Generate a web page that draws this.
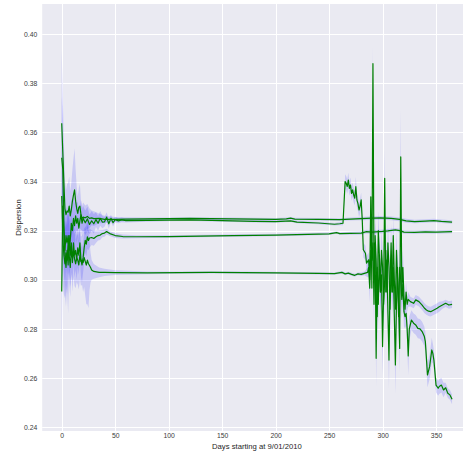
<!DOCTYPE html>
<html>
<head>
<meta charset="utf-8">
<script src="https://cdn.jsdelivr.net/npm/d3@7"></script>
<style>
  body { margin: 0; background: #fff; }
  text { font-family: "Liberation Sans", Arial, sans-serif; }
</style>
</head>
<body>
<div id="chart"></div>
<script>
// each row: [day, mean dispersion, half width of the blue band]
const series1 = [
  [0, 0.3637, 0.030], [1, 0.3520, 0.022], [2, 0.3400, 0.016], [3, 0.3290, 0.012],
  [4, 0.3265, 0.010], [5, 0.3280, 0.011], [6, 0.3275, 0.012], [7, 0.3300, 0.012],
  [8, 0.3260, 0.010], [9, 0.3285, 0.011], [10, 0.3320, 0.013], [11, 0.3345, 0.015],
  [12, 0.3366, 0.017], [13, 0.3320, 0.013], [14, 0.3290, 0.009], [15, 0.3270, 0.007],
  [16, 0.3295, 0.008], [17, 0.3300, 0.009], [18, 0.3265, 0.006], [19, 0.3250, 0.005],
  [20, 0.3255, 0.006], [22, 0.3252, 0.005], [24, 0.3258, 0.005], [26, 0.3250, 0.004],
  [28, 0.3252, 0.003], [30, 0.3249, 0.003], [35, 0.3250, 0.002], [40, 0.3246, 0.0015],
  [50, 0.3246, 0.001], [60, 0.3247, 0.0008], [80, 0.3248, 0.0006], [100, 0.3249, 0.0005],
  [120, 0.3250, 0.0005], [140, 0.3249, 0.0005], [160, 0.3248, 0.0005], [180, 0.3247, 0.0005],
  [200, 0.3246, 0.0005], [210, 0.3248, 0.0005], [214, 0.3251, 0.0005], [218, 0.3247, 0.0005],
  [240, 0.3246, 0.0005], [260, 0.3245, 0.0005], [270, 0.3247, 0.0006], [280, 0.3249, 0.0007],
  [290, 0.3251, 0.0008], [298, 0.3252, 0.0008], [308, 0.3250, 0.0008], [316, 0.3246, 0.0008],
  [322, 0.3240, 0.0008], [330, 0.3237, 0.0007], [340, 0.3239, 0.0007], [348, 0.3241, 0.0007],
  [355, 0.3238, 0.0007], [365, 0.3235, 0.0007]
];

const series2 = [
  [0, 0.3497, 0.025], [1, 0.3450, 0.020], [2, 0.3220, 0.015], [3, 0.3120, 0.013],
  [4, 0.3180, 0.012], [5, 0.3150, 0.013], [6, 0.3180, 0.012], [7, 0.3120, 0.012],
  [8, 0.3160, 0.011], [9, 0.3230, 0.010], [10, 0.3200, 0.010], [11, 0.3250, 0.009],
  [12, 0.3220, 0.009], [13, 0.3260, 0.008], [14, 0.3230, 0.008], [15, 0.3250, 0.007],
  [16, 0.3210, 0.007], [17, 0.3240, 0.006], [18, 0.3265, 0.006], [19, 0.3230, 0.006],
  [20, 0.3250, 0.005], [22, 0.3232, 0.005], [24, 0.3248, 0.005], [26, 0.3225, 0.004],
  [28, 0.3240, 0.004], [30, 0.3228, 0.004], [32, 0.3245, 0.003], [34, 0.3230, 0.003],
  [36, 0.3250, 0.003], [38, 0.3235, 0.0025], [40, 0.3236, 0.002], [42, 0.3255, 0.002],
  [44, 0.3228, 0.002], [46, 0.3250, 0.0015], [48, 0.3232, 0.0015], [50, 0.3245, 0.0012],
  [53, 0.3240, 0.001], [56, 0.3244, 0.001], [60, 0.3241, 0.0008], [80, 0.3242, 0.0006],
  [100, 0.3243, 0.0005], [120, 0.3244, 0.0005], [140, 0.3242, 0.0005], [160, 0.3240, 0.0005],
  [180, 0.3238, 0.0005], [200, 0.3237, 0.0005], [214, 0.3240, 0.0005], [220, 0.3235, 0.0005],
  [240, 0.3231, 0.0005], [255, 0.3226, 0.0005], [260, 0.3228, 0.0006], [263, 0.3230, 0.0008],
  [265, 0.3400, 0.003], [266, 0.3393, 0.003], [267, 0.3380, 0.003], [268, 0.3406, 0.003],
  [269, 0.3372, 0.003], [270, 0.3386, 0.003], [271, 0.3352, 0.003], [272, 0.3366, 0.003],
  [273, 0.3345, 0.003], [274, 0.3332, 0.003], [275, 0.3379, 0.004], [276, 0.3325, 0.003],
  [277, 0.3310, 0.003], [278, 0.3284, 0.003], [279, 0.3300, 0.003], [280, 0.3325, 0.003],
  [281, 0.3244, 0.003], [282, 0.3122, 0.003], [283, 0.3115, 0.003], [284, 0.3108, 0.003],
  [285, 0.3068, 0.003], [287, 0.3081, 0.003], [288, 0.3000, 0.005], [289, 0.3338, 0.006],
  [290, 0.2966, 0.008], [291, 0.3880, 0.008], [292, 0.3020, 0.008], [293, 0.3150, 0.008],
  [294, 0.2680, 0.012], [295, 0.3050, 0.008], [296, 0.2900, 0.008], [297, 0.3100, 0.008],
  [298, 0.2950, 0.008], [299, 0.3020, 0.008], [300, 0.2728, 0.012], [301, 0.2950, 0.008],
  [302, 0.3413, 0.012], [303, 0.2950, 0.008], [304, 0.3080, 0.008], [305, 0.2870, 0.008],
  [306, 0.2673, 0.012], [307, 0.3000, 0.008], [308, 0.3150, 0.008], [309, 0.2950, 0.008],
  [310, 0.3050, 0.008], [311, 0.2850, 0.008], [312, 0.2653, 0.012], [313, 0.2900, 0.008],
  [314, 0.3050, 0.008], [315, 0.2900, 0.008], [316, 0.2720, 0.010], [317, 0.3500, 0.020],
  [318, 0.2960, 0.008], [319, 0.3050, 0.007], [320, 0.2930, 0.006], [321, 0.2880, 0.005],
  [322, 0.2950, 0.004], [323, 0.2900, 0.003], [324, 0.2920, 0.003], [326, 0.2911, 0.002],
  [329, 0.2904, 0.002], [331, 0.2918, 0.002], [334, 0.2911, 0.002], [337, 0.2897, 0.002],
  [339, 0.2885, 0.002], [341, 0.2877, 0.002], [343, 0.2872, 0.002], [345, 0.2870, 0.002],
  [348, 0.2877, 0.002], [351, 0.2884, 0.002], [353, 0.2890, 0.002], [356, 0.2897, 0.0015],
  [359, 0.2904, 0.0015], [362, 0.2897, 0.0015], [365, 0.2900, 0.0015]
];

const series3 = [
  [0, 0.3341, 0.030], [1, 0.3180, 0.020], [2, 0.3100, 0.016], [3, 0.3065, 0.014],
  [4, 0.3110, 0.013], [5, 0.3080, 0.014], [6, 0.3150, 0.012], [7, 0.3100, 0.012],
  [8, 0.3050, 0.012], [9, 0.3120, 0.010], [10, 0.3090, 0.010], [11, 0.3150, 0.009],
  [12, 0.3100, 0.009], [13, 0.3120, 0.008], [14, 0.3080, 0.008], [15, 0.3130, 0.008],
  [16, 0.3100, 0.008], [17, 0.3150, 0.007], [18, 0.3080, 0.007], [19, 0.3060, 0.007],
  [20, 0.3090, 0.006], [21, 0.3130, 0.006], [22, 0.3160, 0.005], [23, 0.3145, 0.005],
  [24, 0.3175, 0.005], [25, 0.3160, 0.004], [26, 0.3170, 0.004], [28, 0.3172, 0.003],
  [30, 0.3168, 0.003], [32, 0.3175, 0.0025], [34, 0.3180, 0.002], [36, 0.3182, 0.002],
  [38, 0.3188, 0.0015], [40, 0.3190, 0.0015], [42, 0.3196, 0.0012], [45, 0.3188, 0.001],
  [50, 0.3180, 0.001], [57, 0.3176, 0.0008], [70, 0.3175, 0.0006], [100, 0.3176, 0.0005],
  [130, 0.3178, 0.0005], [160, 0.3180, 0.0005], [200, 0.3182, 0.0005], [230, 0.3185, 0.0005],
  [250, 0.3187, 0.0005], [257, 0.3192, 0.0005], [260, 0.3188, 0.0005], [270, 0.3189, 0.0006],
  [280, 0.3190, 0.0007], [285, 0.3196, 0.0008], [290, 0.3194, 0.0008], [300, 0.3197, 0.0008],
  [305, 0.3199, 0.0008], [312, 0.3203, 0.0008], [316, 0.3200, 0.0008], [320, 0.3194, 0.0007],
  [330, 0.3193, 0.0007], [340, 0.3195, 0.0007], [350, 0.3194, 0.0007], [365, 0.3196, 0.0007]
];

const series4 = [
  [0, 0.2952, 0.028], [1, 0.3300, 0.022], [2, 0.3200, 0.018], [3, 0.3100, 0.016],
  [4, 0.3050, 0.016], [5, 0.3120, 0.015], [6, 0.3060, 0.020], [7, 0.3180, 0.014],
  [8, 0.3100, 0.013], [9, 0.3150, 0.012], [10, 0.3070, 0.012], [11, 0.3120, 0.011],
  [12, 0.3085, 0.011], [13, 0.3065, 0.010], [14, 0.3090, 0.010], [15, 0.3080, 0.010],
  [16, 0.3060, 0.010], [17, 0.3100, 0.010], [18, 0.3075, 0.010], [19, 0.3080, 0.010],
  [20, 0.3070, 0.012], [21, 0.3090, 0.012], [22, 0.3075, 0.014], [23, 0.3060, 0.016],
  [24, 0.3080, 0.018], [25, 0.3065, 0.018], [26, 0.3058, 0.010], [27, 0.3050, 0.006],
  [28, 0.3040, 0.004], [30, 0.3034, 0.003], [35, 0.3030, 0.002], [40, 0.3030, 0.0015],
  [50, 0.3029, 0.001], [80, 0.3028, 0.0006], [110, 0.3029, 0.0005], [140, 0.3030, 0.0005],
  [170, 0.3029, 0.0005], [200, 0.3028, 0.0005], [220, 0.3027, 0.0005], [240, 0.3026, 0.0005],
  [255, 0.3025, 0.0005], [262, 0.3030, 0.0006], [265, 0.3024, 0.0006], [268, 0.3027, 0.0006],
  [271, 0.3022, 0.0006], [274, 0.3018, 0.0006], [277, 0.3024, 0.0006], [280, 0.3022, 0.0007],
  [283, 0.3026, 0.0008], [286, 0.3030, 0.002], [287, 0.3050, 0.004], [288, 0.2966, 0.006],
  [289, 0.3120, 0.006], [290, 0.3080, 0.006], [291, 0.3150, 0.007], [292, 0.2900, 0.008],
  [293, 0.3180, 0.008], [294, 0.3080, 0.008], [295, 0.2850, 0.012], [296, 0.3200, 0.008],
  [297, 0.3100, 0.008], [298, 0.2950, 0.010], [299, 0.3120, 0.008], [300, 0.3050, 0.008],
  [301, 0.2900, 0.010], [302, 0.3000, 0.008], [303, 0.3120, 0.008], [304, 0.2950, 0.010],
  [305, 0.3150, 0.008], [306, 0.3050, 0.008], [307, 0.2880, 0.012], [308, 0.3050, 0.008],
  [309, 0.2950, 0.010], [310, 0.3180, 0.008], [311, 0.3000, 0.008], [312, 0.2880, 0.012],
  [313, 0.3120, 0.008], [314, 0.3000, 0.008], [315, 0.2850, 0.010], [316, 0.3050, 0.008],
  [317, 0.3000, 0.008], [318, 0.2920, 0.008], [319, 0.2980, 0.007], [320, 0.2870, 0.006],
  [321, 0.2850, 0.005], [322, 0.2863, 0.005], [323, 0.2800, 0.006], [324, 0.2690, 0.008],
  [325, 0.2800, 0.005], [327, 0.2836, 0.004], [329, 0.2823, 0.004], [331, 0.2816, 0.004],
  [333, 0.2802, 0.004], [335, 0.2800, 0.004], [337, 0.2789, 0.004], [339, 0.2770, 0.004],
  [340, 0.2748, 0.004], [342, 0.2612, 0.005], [344, 0.2646, 0.005], [346, 0.2714, 0.005],
  [347, 0.2700, 0.004], [348, 0.2673, 0.004], [350, 0.2571, 0.003], [352, 0.2558, 0.003],
  [353, 0.2565, 0.003], [355, 0.2571, 0.003], [357, 0.2551, 0.003], [359, 0.2560, 0.002],
  [361, 0.2538, 0.002], [363, 0.2531, 0.002], [365, 0.2513, 0.002]
];

const xTicks = [0, 50, 100, 150, 200, 250, 300, 350];
const yTicks = [0.24, 0.26, 0.28, 0.30, 0.32, 0.34, 0.36, 0.38, 0.40];
const xLabel = 'Days starting at 9/01/2010';
const yLabel = 'Dispersion';

const allSeries = [series1, series2, series3, series4];

const width = 463;
const height = 458;

// the axes run a little past the right edge of the picture (it was cropped)
const plot = { left: 42.2, right: 471.6, top: 4, bottom: 431 };

const svg = d3
  .select('#chart')
  .append('svg')
  .attr('width', width)
  .attr('height', height);

const x = d3
  .scaleLinear()
  .domain([-18.25, 383.25])
  .range([plot.left, plot.right]);
const y = d3
  .scaleLinear()
  .domain([0.2384, 0.4123])
  .range([plot.bottom, plot.top]);

svg
  .append('rect')
  .attr('x', plot.left)
  .attr('y', plot.top)
  .attr('width', plot.right - plot.left)
  .attr('height', plot.bottom - plot.top)
  .attr('fill', '#EAEAF2');

svg
  .append('clipPath')
  .attr('id', 'clip')
  .append('rect')
  .attr('x', plot.left)
  .attr('y', plot.top)
  .attr('width', plot.right - plot.left)
  .attr('height', plot.bottom - plot.top);

// white grid
const grid = svg.append('g').attr('stroke', '#fff').attr('stroke-width', 1);
grid
  .selectAll('line.gx')
  .data(xTicks)
  .enter()
  .append('line')
  .attr('x1', d => Math.round(x(d)) + 0.5)
  .attr('x2', d => Math.round(x(d)) + 0.5)
  .attr('y1', plot.top)
  .attr('y2', plot.bottom);
grid
  .selectAll('line.gy')
  .data(yTicks)
  .enter()
  .append('line')
  .attr('x1', plot.left)
  .attr('x2', plot.right)
  .attr('y1', d => Math.round(y(d)) + 0.5)
  .attr('y2', d => Math.round(y(d)) + 0.5);

// tick labels, no tick marks (seaborn darkgrid)
const xAxis = svg
  .append('g')
  .attr('transform', `translate(0,${plot.bottom})`)
  .call(
    d3
      .axisBottom(x)
      .tickValues(xTicks)
      .tickSize(0)
      .tickPadding(2.5)
      .tickFormat(d3.format('d'))
  );
const yAxis = svg
  .append('g')
  .attr('transform', `translate(${plot.left},0)`)
  .call(
    d3
      .axisLeft(y)
      .tickValues(yTicks)
      .tickSize(0)
      .tickPadding(5)
      .tickFormat(d3.format('.2f'))
  );
[xAxis, yAxis].forEach(axis => {
  axis.select('.domain').remove();
  axis
    .selectAll('text')
    .attr('fill', '#3a3a3a')
    .style('font-size', '6.8px')
    .style('font-family', '"Liberation Sans", Arial, sans-serif');
});

svg
  .append('text')
  .attr('x', (plot.left + plot.right) / 2)
  .attr('y', 448.5)
  .attr('text-anchor', 'middle')
  .attr('fill', '#262626')
  .style('font-size', '7.7px')
  .text(xLabel);

svg
  .append('text')
  .attr('transform', `translate(20.5,${(plot.top + plot.bottom) / 2}) rotate(-90)`)
  .attr('text-anchor', 'middle')
  .attr('fill', '#262626')
  .style('font-size', '7.7px')
  .text(yLabel);

const band = d3
  .area()
  .x(d => x(d[0]))
  .y0(d => y(d[1] - d[2]))
  .y1(d => y(d[1] + d[2]));

const line = d3
  .line()
  .x(d => x(d[0]))
  .y(d => y(d[1]));

const g = svg.append('g').attr('clip-path', 'url(#clip)');

allSeries.forEach(s => {
  g
    .append('path')
    .datum(s)
    .attr('fill', 'blue')
    .attr('fill-opacity', 0.14)
    .attr('stroke', 'none')
    .attr('d', band);
});

allSeries.forEach(s => {
  g
    .append('path')
    .datum(s)
    .attr('fill', 'none')
    .attr('stroke', '#008000')
    .attr('stroke-width', 1.2)
    .attr('stroke-linejoin', 'round')
    .attr('d', line);
});
</script>
</body>
</html>
